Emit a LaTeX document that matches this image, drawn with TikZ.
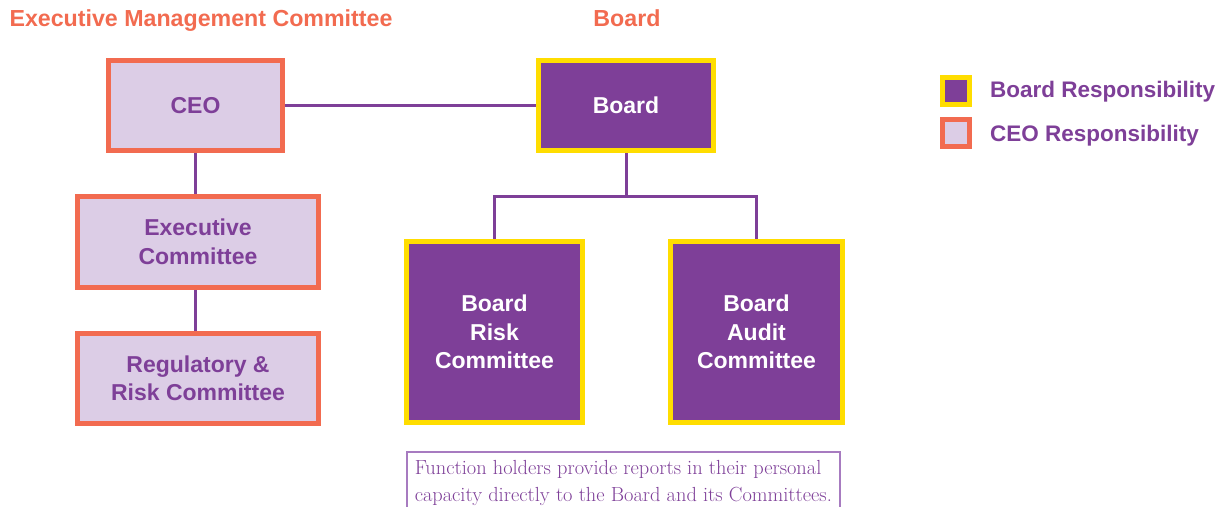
\documentclass[tikz,border=0pt]{standalone}
\usepackage{fontspec}
\usepackage{tikz}
\usetikzlibrary{positioning}
\newfontfamily\headfont{Liberation Sans}
\definecolor{boardfill}{HTML}{7E3F98}
\definecolor{boardline}{HTML}{FFDD00}
\definecolor{ceofill}{HTML}{DCCDE6}
\definecolor{ceoline}{HTML}{F26B50}
\definecolor{noteline}{HTML}{A77BC0}

\begin{document}
\begin{tikzpicture}[
  x=1pt, y=-1pt,
  ceobox/.style={rectangle, draw=ceoline, fill=ceofill, line width=5pt, text=boardfill, align=center, inner sep=0pt, font=\headfont\bfseries\fontsize{23}{28.5}\selectfont},
  boardbox/.style={ceobox, draw=boardline, fill=boardfill, text=white},
  link/.style={draw=boardfill, line width=3pt},
  heading/.style={text=ceoline, anchor=base, inner sep=0pt, font=\headfont\bfseries\fontsize{23.2}{26}\selectfont},
  legendbox/.style={rectangle, line width=5pt, minimum size=27pt, inner sep=0pt},
  legendtext/.style={anchor=base west, inner sep=0pt, text=boardfill, font=\headfont\bfseries\fontsize{22.5}{26}\selectfont},
  notebox/.style={rectangle, draw=noteline, line width=1.5pt, anchor=north west, align=left, text=boardfill, inner xsep=8pt, inner ysep=9pt, font=\fontsize{20.4}{27}\selectfont}
]
\useasboundingbox (0,0) rectangle (1226,506);

% Headings over the two sides
\node[heading] (emctitle) at (201,26.5) {Executive Management Committee};
\node[heading] (boardtitle) at (627,26.5) {Board};

% CEO side
\node[ceobox, minimum width=174, minimum height=90] (ceo) at (195.5,105.5) {CEO};
\node[ceobox, minimum width=241, minimum height=91] (exco) at (198,242) {Executive\\Committee};
\node[ceobox, minimum width=241, minimum height=90] (rrc) at (198,378.5) {Regulatory \&\\Risk Committee};

% Board side
\node[boardbox, minimum width=175, minimum height=90] (board) at (626,105.5) {Board};
\node[boardbox, minimum width=176, minimum height=181] (brc) at (494.5,332) {Board\\Risk\\Committee};
\node[boardbox, minimum width=172, minimum height=181] (bac) at (756.5,332) {Board\\Audit\\Committee};
\coordinate (split) at (626,196);

% Connectors
\draw[link] (ceo) -- (board);
\draw[link] (ceo.south) -- (ceo.south |- exco.north);
\draw[link] (ceo.south |- exco.south) -- (ceo.south |- rrc.north);
\draw[link] (board.south) -- (split);
\draw[link] (brc.north) |- (split) -| (bac.north);

% Note under the committees
\node[notebox] (note) at (406,451) {Function holders provide reports in their personal\\capacity directly to the Board and its Committees.\\[2pt]};

% Legend
\node[legendbox, draw=boardline, fill=boardfill] (legboard) at (956,90.5) {};
\node[legendtext] (legboardtext) at (990,97.5) {Board Responsibility};
\node[legendbox, draw=ceoline, fill=ceofill] (legceo) at (956,133) {};
\node[legendtext] (legceotext) at (990,141) {CEO Responsibility};

\end{tikzpicture}
\end{document}
